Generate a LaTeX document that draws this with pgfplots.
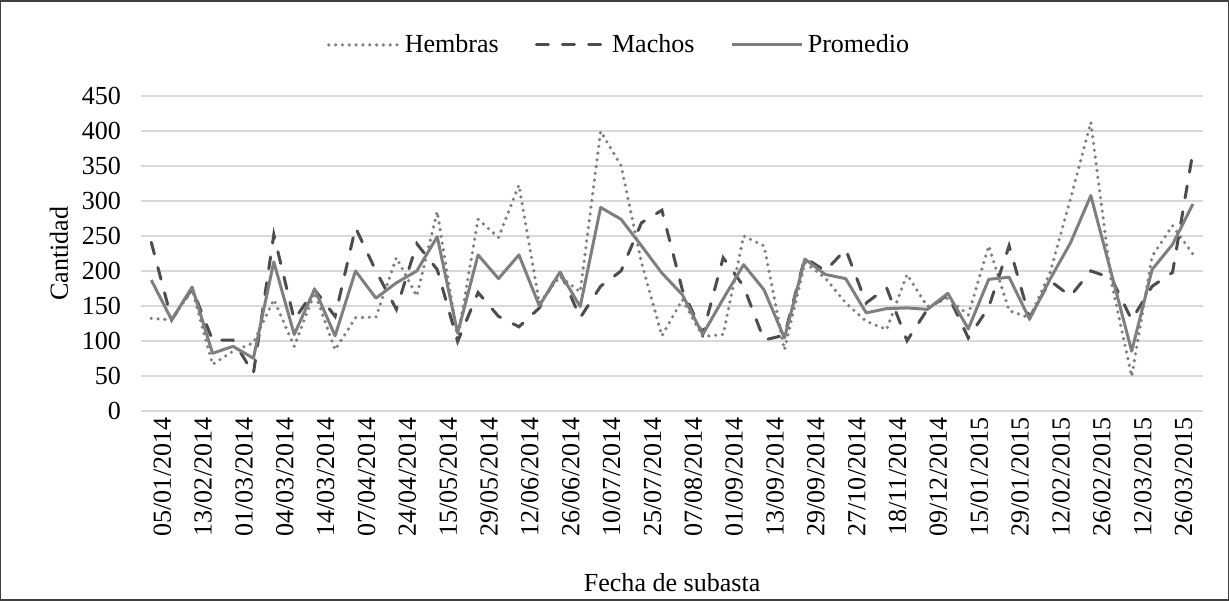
\documentclass[border=0pt]{standalone}
\usepackage{fontspec}
\setmainfont{Liberation Serif}
\usepackage{pgfplots}
\usepackage{pgfplotstable}
\pgfplotsset{compat=1.18}
\definecolor{gridc}{HTML}{D9D9D9}
\definecolor{hemc}{HTML}{808080}
\definecolor{macc}{HTML}{4D4D4D}
\definecolor{proc}{HTML}{7F7F7F}
\pgfplotstableread{
i H M P
0 132 241 187
1 130 130 130
2 173 175 177
3 66 101 82
4 85 101 92
5 97 53 75
6 159 252 213
7 92 130 109
8 169 173 174
9 87 135 107
10 133 262 200
11 134 200 161
12 219 145 183
13 164 239 200
14 285 202 249
15 103 99 111
16 274 169 223
17 248 135 189
18 323 120 223
19 154 147 150
20 192 200 198
21 170 133 149
22 400 178 291
23 351 200 274
24 212 269 236
25 107 287 197
26 159 173 166
27 106 110 109
28 109 219 160
29 250 178 209
30 236 101 173
31 87 108 104
32 212 219 217
33 190 200 195
34 154 231 189
35 128 154 140
36 116 176 146
37 195 100 147
38 149 145 145
39 161 166 168
40 137 104 117
41 236 148 188
42 143 236 191
43 133 133 131
44 197 186 188
45 303 164 240
46 413 200 308
47 185 190 197
48 49 130 85
49 221 178 202
50 265 198 238
51 224 371 296
}\datatable
\begin{document}
\begin{tikzpicture}
\begin{axis}[
  scale only axis,
  width=530pt, height=156.75pt,
  xmin=-0.5, xmax=51.5, ymin=0, ymax=450,
  clip=false,
  axis line style={draw=none},
  major tick length=0pt,
  ymajorgrids, grid style={gridc, line width=1pt},
  ytick={0,50,...,450},
  xtick={0,2,...,50},
  xticklabels={05/01/2014,13/02/2014,01/03/2014,04/03/2014,14/03/2014,07/04/2014,24/04/2014,15/05/2014,29/05/2014,12/06/2014,26/06/2014,10/07/2014,25/07/2014,07/08/2014,01/09/2014,13/09/2014,29/09/2014,27/10/2014,18/11/2014,09/12/2014,15/01/2015,29/01/2015,12/02/2015,26/02/2015,12/03/2015,26/03/2015},
  /pgf/number format/assume math mode=true,
  tick label style={font=\fontsize{13}{15}\selectfont, text=black},
  yticklabel style={xshift=-6.5pt},
  xticklabel style={rotate=90, anchor=east, yshift=-5.5pt},
  xlabel={Fecha de subasta},
  ylabel={Cantidad},
  label style={font=\fontsize{13}{15}\selectfont},
  xlabel style={at={(axis description cs:0.5,-0.549)}, anchor=center},
  ylabel style={at={(axis description cs:-0.0774,0.5)}, anchor=center, rotate=0},
  legend columns=3,
  legend style={draw=none, fill=none, at={(0.451,1.164)}, anchor=center,
    font=\fontsize{13}{15}\selectfont,
    /tikz/every even column/.append style={column sep=16pt}},
  legend image code/.code={\draw[#1] (0pt,0pt) -- (35pt,0pt);},
]
\addplot[hemc, line width=1.8pt, line cap=round, dash pattern=on 0pt off 3.4pt] table[x=i,y=H]{\datatable};
\addlegendentry{Hembras}
\addplot[macc, line width=1.5pt, line cap=round, dash pattern=on 6pt off 7pt] table[x=i,y=M]{\datatable};
\addlegendentry{Machos}
\addplot[proc, line width=1.5pt, line join=round] table[x=i,y=P]{\datatable};
\addlegendentry{Promedio}
\draw[black!75, line width=0.75pt] (rel axis cs:-0.1321,-0.6029) rectangle (rel axis cs:1.0236,1.3046);
\end{axis}
\end{tikzpicture}
\end{document}
